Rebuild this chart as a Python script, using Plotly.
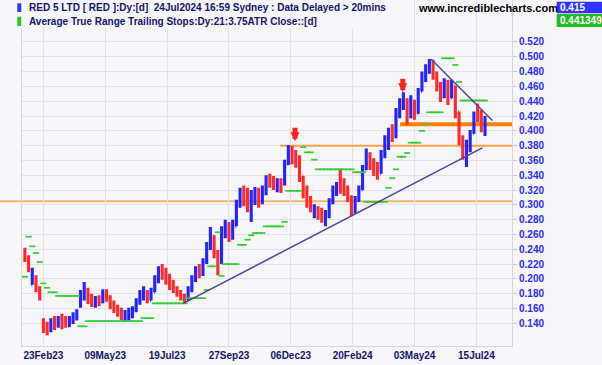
import plotly.graph_objects as go

# ---------------- data ----------------
# trading-day index (0 = 23Feb23), one bar every 3 sessions
bar_index = list(range(-15, 358, 3))

opens = [.239, .228, .192, .201, .188, .144, .131, .131, .142, .136,
         .144, .142, .136, .144, .153, .165, .180, .185, .171, .169,
         .174, .169, .182, .177, .163, .158, .153, .147, .150, .155,
         .161, .171, .181, .182, .171, .182, .201, .212, .207, .199,
         .190, .185, .180, .174, .171, .186, .201, .212, .207, .223,
         .244, .258, .236, .223, .266, .269, .258, .271, .301, .315,
         .307, .298, .309, .317, .304, .320, .336, .331, .326, .328,
         .328, .355, .374, .366, .358, .339, .317, .307, .288, .293,
         .285, .282, .288, .304, .320, .333, .323, .320, .309, .293,
         .307, .320, .347, .366, .355, .347, .342, .366, .388, .398,
         .393, .426, .439, .442, .426, .436, .423, .453, .474, .485,
         .493, .477, .461, .447, .466, .444, .461, .426, .390, .374,
         .377, .396, .434, .420, .404]

highs = [.242, .232, .215, .205, .190, .147, .142, .147, .150, .150,
         .153, .150, .150, .155, .159, .185, .196, .188, .180, .177,
         .178, .186, .186, .178, .171, .165, .161, .158, .161, .163,
         .174, .185, .190, .185, .188, .205, .217, .220, .215, .207,
         .199, .190, .185, .180, .190, .205, .217, .220, .228, .250,
         .270, .259, .239, .271, .280, .277, .280, .307, .323, .326,
         .323, .320, .324, .323, .326, .340, .342, .339, .336, .336,
         .361, .381, .380, .374, .367, .339, .326, .312, .301, .298,
         .296, .293, .309, .326, .331, .347, .336, .326, .313, .312,
         .326, .354, .376, .371, .363, .358, .374, .394, .404, .409,
         .431, .444, .452, .444, .448, .442, .458, .480, .490, .497,
         .496, .480, .466, .471, .469, .469, .461, .426, .394, .388,
         .401, .426, .437, .428, .420]

lows = [.223, .209, .192, .182, .171, .127, .124, .128, .131, .134,
        .132, .134, .135, .139, .144, .161, .171, .166, .162, .161,
        .163, .167, .169, .159, .154, .149, .144, .143, .144, .147,
        .155, .165, .171, .167, .171, .182, .194, .199, .192, .185,
        .181, .176, .171, .166, .171, .182, .196, .201, .204, .220,
        .239, .228, .205, .220, .255, .250, .253, .271, .296, .298,
        .290, .277, .300, .296, .301, .313, .323, .320, .317, .316,
        .326, .354, .355, .350, .331, .309, .296, .290, .282, .280,
        .276, .271, .282, .301, .312, .315, .312, .304, .285, .288,
        .304, .320, .347, .347, .339, .334, .342, .363, .374, .385,
        .390, .417, .428, .408, .417, .415, .423, .453, .466, .477,
        .469, .453, .439, .444, .435, .444, .417, .381, .361, .351,
        .371, .396, .412, .398, .393]

closes = [.228, .215, .203, .188, .176, .131, .128, .142, .136, .144,
          .138, .136, .144, .153, .155, .180, .185, .171, .169, .174,
          .169, .182, .177, .163, .158, .153, .147, .150, .155, .161,
          .171, .181, .182, .171, .182, .201, .212, .207, .199, .190,
          .185, .180, .174, .171, .186, .201, .212, .207, .223, .244,
          .258, .236, .223, .266, .269, .258, .271, .301, .315, .307,
          .298, .309, .317, .304, .320, .336, .331, .326, .328, .323,
          .355, .374, .366, .358, .339, .317, .307, .296, .293, .285,
          .282, .288, .304, .320, .326, .323, .320, .309, .293, .307,
          .320, .347, .366, .355, .347, .342, .366, .388, .398, .393,
          .426, .439, .442, .426, .436, .423, .453, .474, .485, .493,
          .477, .461, .447, .466, .444, .461, .426, .390, .374, .377,
          .396, .420, .420, .404, .415]

atr_stop = [.203, .257, .244, .235, .223, .194, .188, .182, .182, .177,
            .177, .177, .177, .177, .177, .136, .136, .143, .143, .143,
            .143, .143, .143, .143, .143, .143, .143, .143, .143, .143,
            .143, .143, .147, .147, .147, .167, .167, .167, .167, .167,
            .167, .167, .167, .167, .174, .174, .174, .174, .174, .185,
            .217, .217, .263, .204, .220, .220, .220, .220, .246, .246,
            .253, .259, .262, .262, .262, .271, .271, .271, .271, .271,
            .277, .319, .319, .319, .319, .378, .371, .371, .361, .348,
            .348, .348, .348, .348, .348, .348, .348, .348, .348, .344,
            .344, .344, .304, .304, .304, .304, .304, .304, .323, .336,
            .348, .365, .365, .370, .384, .384, .384, .400, .409, .425,
            .425, .425, .425, .498, .498, .498, .489, .466, .441, .441,
            .441, .441, .441, .441, .441]

tick_index = [0, 50, 100, 150, 200, 250, 300, 350]
tick_labels = ["23Feb23", "09May23", "19Jul23", "27Sep23", "06Dec23",
               "20Feb24", "03May24", "15Jul24"]
y_ticks = [0.14, 0.16, 0.18, 0.20, 0.22, 0.24, 0.26, 0.28, 0.30, 0.32,
           0.34, 0.36, 0.38, 0.40, 0.42, 0.44, 0.46, 0.48, 0.50, 0.52]

support_x = [113.1, 354.8]
support_y = [0.167, 0.377]
resist_x = [313.3, 362.9]
resist_y = [0.497, 0.414]

level_values = [0.409, 0.380, 0.305]
level_start = [288.3, 191.3, None]

arrow_x = [203.4, 290.5]
arrow_y = [0.386, 0.452]

last_close_label = "0.415"
last_stop_label = "0.441349"

X_MIN, X_MAX = -17.3, 378.8
Y_MIN, Y_MAX = 0.1094, 0.5767

BG = "#f7f7fa"
NAVY = "#14146e"

fig = go.Figure()

# ATR trailing stops
fig.add_trace(go.Scatter(
    x=bar_index, y=atr_stop, mode="markers",
    marker=dict(symbol="line-ew", size=4.4,
                line=dict(width=1.7, color="#33cc33")),
    hoverinfo="skip"))

# price bars
fig.add_trace(go.Ohlc(
    x=bar_index, open=opens, high=highs, low=lows, close=closes,
    increasing=dict(line=dict(color="#2323ff", width=3.1)),
    decreasing=dict(line=dict(color="#ff2b2b", width=3.1)),
    tickwidth=0.2, hoverinfo="skip"))

# trend lines
fig.add_trace(go.Scatter(x=support_x, y=support_y, mode="lines",
                         line=dict(color="#48489a", width=1.5), hoverinfo="skip"))
fig.add_trace(go.Scatter(x=resist_x, y=resist_y, mode="lines",
                         line=dict(color="#48489a", width=1.5), hoverinfo="skip"))

shapes = []
level_styles = [("#ff8200", 4), ("#ffa24a", 2), ("#ffb468", 2)]
for val, start, (col, w) in zip(level_values, level_start, level_styles):
    if start is None:
        shapes.append(dict(type="line", xref="paper", yref="y", x0=-0.045, x1=1,
                           y0=val, y1=val, line=dict(color=col, width=w), layer="between"))
    else:
        shapes.append(dict(type="line", xref="x", yref="y", x0=start, x1=X_MAX,
                           y0=val, y1=val, line=dict(color=col, width=w), layer="between"))

# header background & colour keys
shapes.append(dict(type="rect", xref="paper", yref="paper", x0=-0.045, x1=0.7388,
                   y0=0.9191, y1=1.0, fillcolor=BG, line=dict(width=0), layer="above"))
shapes.append(dict(type="rect", xref="paper", yref="paper", x0=-0.0096, x1=-0.0015,
                   y0=0.9653, y1=0.9905, fillcolor="#3333ff", line=dict(width=0), layer="above"))
shapes.append(dict(type="rect", xref="paper", yref="paper", x0=-0.0096, x1=-0.0015,
                   y0=0.9249, y1=0.9517, fillcolor="#22cc22", line=dict(width=0), layer="above"))
shapes.append(dict(type="rect", xref="paper", yref="paper", x0=1.0912, x1=1.19,
                   y0=0.9616, y1=0.9951, fillcolor="#3333ff", line=dict(width=0), layer="above"))
shapes.append(dict(type="rect", xref="paper", yref="paper", x0=1.0912, x1=1.19,
                   y0=0.9220, y1=0.9595, fillcolor="#22bb22", line=dict(width=0), layer="above"))

annotations = []
for ax_, ay_ in zip(arrow_x, arrow_y):
    annotations.append(dict(x=ax_, y=ay_, xref="x", yref="y", text="", showarrow=True,
                            ax=0, ay=-15, arrowhead=2, arrowsize=0.36, arrowwidth=5,
                            arrowcolor="#ff2020", standoff=0))

hdr_font = dict(family="Liberation Sans", size=10, color=NAVY, weight="bold")
annotations.append(dict(xref="paper", yref="paper", x=0.0102, y=0.9783, xanchor="left",
                        yanchor="middle", showarrow=False, font=hdr_font,
                        text="RED 5 LTD [ RED ]:Dy:[d]  24Jul2024 16:59 Sydney : Data Delayed > 20mins"))
annotations.append(dict(xref="paper", yref="paper", x=0.0102, y=0.9379, xanchor="left",
                        yanchor="middle", showarrow=False, font=hdr_font,
                        text="Average True Range Trailing Stops:Dy:21:3.75ATR Close::[d]"))
annotations.append(dict(xref="paper", yref="paper", x=0.8041, y=0.9769, xanchor="left",
                        yanchor="middle", showarrow=False,
                        font=dict(family="Liberation Sans", size=11, color="#000000", weight="bold"),
                        text="www.incrediblecharts.com"))
annotations.append(dict(xref="paper", yref="paper", x=1.0945, y=0.9783, xanchor="left",
                        yanchor="middle", showarrow=False,
                        font=dict(family="Liberation Sans", size=10, color="#ffffff", weight="bold"),
                        text=last_close_label))
annotations.append(dict(xref="paper", yref="paper", x=1.0945, y=0.9408, xanchor="left",
                        yanchor="middle", showarrow=False,
                        font=dict(family="Liberation Sans", size=10, color="#ffffff", weight="bold"),
                        text=last_stop_label))

fig.update_layout(
    width=602, height=365,
    margin=dict(l=22, r=90, t=0, b=19),
    paper_bgcolor=BG, plot_bgcolor=BG,
    showlegend=False,
    shapes=shapes, annotations=annotations,
    xaxis=dict(range=[X_MIN, X_MAX], tickmode="array", tickvals=tick_index,
               ticktext=tick_labels, showgrid=True, gridcolor="#e2e2e9", gridwidth=1,
               zeroline=False, showline=True, linecolor="#d6d6de", mirror=True,
               ticks="", rangeslider=dict(visible=False),
               tickfont=dict(family="Liberation Sans", size=10, color=NAVY, weight="bold")),
    yaxis=dict(range=[Y_MIN, Y_MAX], side="right", tickmode="array", tickvals=y_ticks,
               ticktext=[f"{v:.3f}" for v in y_ticks], showgrid=True, gridcolor="#e2e2e9",
               zeroline=False, showline=True, linecolor="#d6d6de", mirror=True,
               ticks="outside", ticklen=4, tickcolor="#c8c8d2",
               tickfont=dict(family="Liberation Sans", size=10, color="#2a2aff", weight="bold")),
)

fig.write_html("out.html",
               config={"displayModeBar": False},
               post_script="document.body.style.margin='0';document.body.style.background='#f7f7fa';")
